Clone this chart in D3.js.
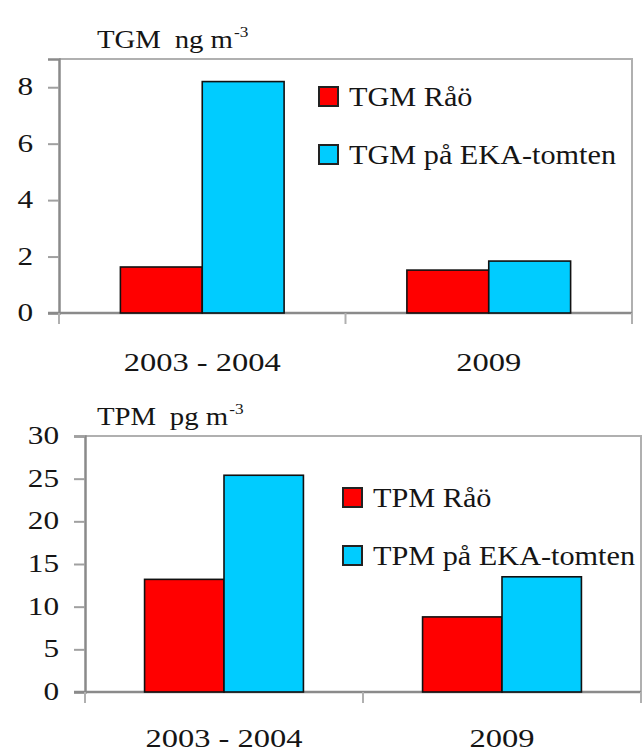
<!DOCTYPE html>
<html>
<head>
<meta charset="utf-8">
<script src="https://cdn.jsdelivr.net/npm/d3@7/dist/d3.min.js"></script>
<style>
html,body{margin:0;padding:0;background:#fff;}
svg{display:block;}
</style>
</head>
<body>
<svg id="chart" width="644" height="754"></svg>
<script>
// ---- data ----
const categories = ["2003 - 2004", "2009"];
const tgmSeries = ["TGM Råö", "TGM på EKA-tomten"];
const tgmRao = [1.63, 1.52];
const tgmEka = [8.2, 1.84];
const tgmTicks = [0, 2, 4, 6, 8];
const tpmSeries = ["TPM Råö", "TPM på EKA-tomten"];
const tpmRao = [13.2, 8.8];
const tpmEka = [25.4, 13.5];
const tpmTicks = [0, 5, 10, 15, 20, 25, 30];
const colors = ["#ff0000", "#00ccff"];

const FONT = '"Liberation Serif"';
const svg = d3.select("#chart");

function stretchedText(g, x, y, str, size, sx, anchor) {
  const t = g.append("text")
    .attr("x", x).attr("y", y)
    .attr("text-anchor", anchor)
    .style("font-family", FONT)
    .style("font-size", size + "px")
    .attr("fill", "#151515")
    .text(str);
  const w = t.node().getComputedTextLength();
  t.attr("textLength", w * sx).attr("lengthAdjust", "spacingAndGlyphs");
  return t;
}

function drawChart(cfg) {
  const g = svg.append("g");
  const x0 = d3.scaleBand().domain(categories).range([cfg.left, cfg.right]).paddingInner(0).paddingOuter(0);
  const x1 = d3.scaleBand().domain([0, 1]).range([0, x0.bandwidth()]).paddingInner(0).paddingOuter(0.75);
  const y = d3.scaleLinear().domain([0, cfg.max]).range([cfg.bottom, cfg.top]);

  g.append("path")
    .attr("d", `M${cfg.left},${y(cfg.max)}H${cfg.right}V${cfg.bottom}`)
    .attr("fill", "none").attr("stroke", "#b0b0b0").attr("stroke-width", 2);

  const ya = g.append("g").attr("transform", `translate(${cfg.left},0)`)
    .call(d3.axisLeft(y).tickValues(cfg.ticks).tickSize(11).tickFormat(""));
  ya.select(".domain").attr("stroke", "#8a8a8a").attr("stroke-width", 2.5);
  ya.selectAll(".tick line").attr("stroke", "#a0a0a0").attr("stroke-width", 2);
  cfg.ticks.forEach(t => {
    stretchedText(g, cfg.labelX, y(t) + 8, String(t), cfg.tickFont, cfg.tickSx, "end");
  });

  const boundaries = [cfg.left, ...categories.slice(1).map(c => x0(c)), cfg.right];
  const xa = g.append("g").attr("transform", `translate(0,${cfg.bottom})`);
  xa.append("line").attr("x1", cfg.left - 11).attr("x2", cfg.right).attr("y1", 0).attr("y2", 0)
    .attr("stroke", "#8a8a8a").attr("stroke-width", 2.5);
  xa.selectAll("line.bt").data(boundaries).join("line").attr("class", "bt")
    .attr("x1", d => d).attr("x2", d => d).attr("y1", 0).attr("y2", 11)
    .attr("stroke", "#b0b0b0").attr("stroke-width", 2);

  const vals = [cfg.a, cfg.b];
  categories.forEach((c, i) => {
    vals.forEach((v, s) => {
      g.append("rect")
        .attr("x", x0(c) + x1(s))
        .attr("y", y(v[i]))
        .attr("width", x1.bandwidth())
        .attr("height", y(0) - y(v[i]))
        .attr("fill", colors[s]).attr("stroke", "#111").attr("stroke-width", 1.6);
    });
    stretchedText(g, x0(c) + x0.bandwidth() / 2, cfg.catY, c, cfg.catFont, cfg.catSx, "middle");
  });

  // title: main part, then superscript
  const t1 = stretchedText(g, cfg.titleX, cfg.titleY, cfg.title[0], cfg.titleFont, cfg.titleSx, "start");
  const w1 = +t1.attr("textLength");
  const t2 = stretchedText(g, cfg.titleX + w1 + cfg.titleFont * 0.55, cfg.titleY, cfg.title[1], cfg.titleFont, cfg.titleSx, "start");
  const w2 = +t2.attr("textLength");
  stretchedText(g, cfg.titleX + w1 + cfg.titleFont * 0.55 + w2 + 1, cfg.titleY - 11, "-3", cfg.titleFont * 0.6, cfg.titleSx, "start");

  cfg.series.forEach((s, k) => {
    const cy = cfg.legY[k];
    g.append("rect").attr("x", cfg.legX).attr("y", cy - 10).attr("width", 19).attr("height", 19)
      .attr("fill", colors[k]).attr("stroke", "#222").attr("stroke-width", 2);
    stretchedText(g, cfg.legX + 30, cy + 9, s, cfg.legFont, cfg.legSx, "start");
  });
}

drawChart({
  left: 59, right: 632, top: 59, bottom: 313, max: 9,
  ticks: tgmTicks, a: tgmRao, b: tgmEka, series: tgmSeries,
  labelX: 33, tickFont: 25, tickSx: 1.25,
  catY: 371, catFont: 26, catSx: 1.25,
  title: ["TGM", "ng m"], titleX: 97, titleY: 48, titleFont: 25, titleSx: 1.15,
  legX: 319, legY: [97, 155], legFont: 28, legSx: 1.08
});

drawChart({
  left: 85, right: 641, top: 436, bottom: 692, max: 30,
  ticks: tpmTicks, a: tpmRao, b: tpmEka, series: tpmSeries,
  labelX: 59, tickFont: 25, tickSx: 1.25,
  catY: 747, catFont: 26, catSx: 1.25,
  title: ["TPM", "pg m"], titleX: 97, titleY: 425, titleFont: 25, titleSx: 1.15,
  legX: 343, legY: [498, 556], legFont: 28, legSx: 1.08
});
</script>
</body>
</html>
